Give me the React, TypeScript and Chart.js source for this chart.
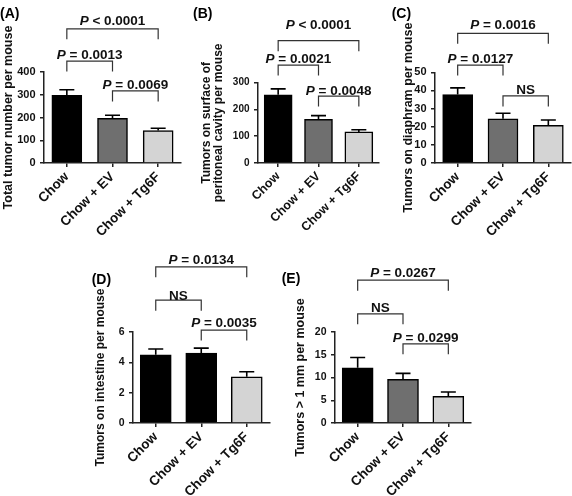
import React, { useEffect, useRef } from "react";
import { Chart, registerables } from "chart.js";

Chart.register(...registerables);

const FONT = "'Liberation Sans', Arial, Helvetica, sans-serif";

const categories = ["Chow", "Chow + EV", "Chow + Tg6F"];

// (A) Total tumor number per mouse
const totalMeans = [298, 196, 143];
const totalSem = [24, 14, 10];
// (B) Tumors on surface of peritoneal cavity per mouse
const peritonealMeans = [255, 163, 116];
const peritonealSem = [22, 14, 8];
// (C) Tumors on diaphram per mouse
const diaphramMeans = [37.7, 24.4, 20.8];
const diaphramSem = [3.7, 3.0, 2.9];
// (D) Tumors on intestine per mouse
const intestineMeans = [4.5, 4.61, 3.05];
const intestineSem = [0.38, 0.33, 0.33];
// (E) Tumors > 1 mm per mouse
const largeMeans = [12.15, 9.6, 5.86];
const largeSem = [2.25, 1.3, 0.94];

// y axis ranges / tick steps
const yMaxes = [400, 300, 50, 6, 20];
const ySteps = [100, 100, 10, 2, 5];

const panelLetters = ["(A)", "(B)", "(C)", "(D)", "(E)"];
const yTitles: (string | string[])[] = [
  "Total tumor number per mouse",
  ["Tumors on surface of", "peritoneal cavity per mouse"],
  "Tumors on diaphram per mouse",
  "Tumors on intestine per mouse",
  "Tumors > 1 mm per mouse",
];

// significance brackets: from category, to category, level (y units), label
const bracketFrom = [
  [0, 0, 1],
  [0, 0, 1],
  [0, 0, 1],
  [0, 0, 1],
  [0, 0, 1],
];
const bracketTo = [
  [2, 1, 2],
  [2, 1, 2],
  [2, 1, 2],
  [2, 1, 2],
  [2, 1, 2],
];
const bracketLevels = [
  [590, 448, 317],
  [457, 366, 250],
  [71.5, 54, 37],
  [10.3, 8.1, 6.13],
  [31.4, 24, 17.4],
];
const bracketLabels = [
  ["P < 0.0001", "P = 0.0013", "P = 0.0069"],
  ["P < 0.0001", "P = 0.0021", "P = 0.0048"],
  ["P = 0.0016", "P = 0.0127", "NS"],
  ["P = 0.0134", "NS", "P = 0.0035"],
  ["P = 0.0267", "NS", "P = 0.0299"],
];

const meansList = [totalMeans, peritonealMeans, diaphramMeans, intestineMeans, largeMeans];
const semList = [totalSem, peritonealSem, diaphramSem, intestineSem, largeSem];

// ---- styles / layout ----
const GREY = ["#000000", "#6f6f6f", "#d4d4d4"];
const barColors = [GREY, GREY, GREY, ["#000000", "#000000", "#d4d4d4"], GREY];

const layouts = [
  { left: 0, top: 0, width: 185, height: 250, yWidth: 44, padTop: 72, padRight: 4, xHeight: 87, titlePad: 0.8, lh: 1.2, bar: 30, lx: 0, ly: 17.5, gaps: [4, 2, 2], catSize: 13.5, tickSize: 11, titleSize: 12.5 },
  { left: 185, top: 0, width: 200, height: 250, yWidth: 73, padTop: 82.7, padRight: 6, xHeight: 87, titlePad: 16, lh: 1.0, bar: 28, lx: 8, ly: 18, gaps: [12, 2, 1.5], catSize: 12.5, tickSize: 10, titleSize: 12 },
  { left: 385, top: 0, width: 187, height: 250, yWidth: 50, padTop: 72.3, padRight: 1, xHeight: 87, titlePad: 16, lh: 1.2, bar: 30, lx: 6.7, ly: 17.5, gaps: [4, 2, 2], catSize: 13.5, tickSize: 11, titleSize: 12.5 },
  { left: 85, top: 250, width: 190, height: 246, yWidth: 48, padTop: 82, padRight: 5.5, xHeight: 73, titlePad: 8.5, lh: 1.2, bar: 31, lx: 6.7, ly: 34, gaps: [3, 0.5, 3], catSize: 13.5, tickSize: 10.5, titleSize: 12 },
  { left: 275, top: 250, width: 205, height: 246, yWidth: 60, padTop: 82, padRight: 9, xHeight: 73, titlePad: 18.5, lh: 1.2, bar: 31, lx: 6.7, ly: 33, gaps: [3, 2.3, 2.3], catSize: 13.5, tickSize: 10.5, titleSize: 12.5 },
];

const annotatePlugin = {
  id: "annotate",
  afterDatasetsDraw(chart: any, _args: any, opts: any) {
    const ctx: CanvasRenderingContext2D = chart.ctx;
    const xs = chart.scales.x;
    const ys = chart.scales.y;
    const meta = chart.getDatasetMeta(0);
    const p = opts.panel as number;
    const L = layouts[p];
    ctx.save();
    // error bars (upper SEM)
    ctx.strokeStyle = "#000";
    ctx.lineWidth = 1.6;
    const cap = 15;
    meansList[p].forEach((m, i) => {
      const el = meta.data[i];
      const xc = el.x;
      const yTop = ys.getPixelForValue(m);
      const yErr = ys.getPixelForValue(m + semList[p][i]);
      ctx.beginPath();
      ctx.moveTo(xc, yTop);
      ctx.lineTo(xc, yErr);
      ctx.moveTo(xc - cap / 2, yErr);
      ctx.lineTo(xc + cap / 2, yErr);
      ctx.stroke();
    });
    // brackets
    const arm = 10.5;
    ctx.strokeStyle = "#333";
    ctx.lineWidth = 1.2;
    ctx.fillStyle = "#111";
    ctx.textBaseline = "alphabetic";
    bracketLevels[p].forEach((lvl, k) => {
      const x1 = xs.getPixelForValue(bracketFrom[p][k]);
      const x2 = xs.getPixelForValue(bracketTo[p][k]);
      const yb = ys.getPixelForValue(lvl);
      ctx.beginPath();
      ctx.moveTo(x1, yb + arm);
      ctx.lineTo(x1, yb);
      ctx.lineTo(x2, yb);
      ctx.lineTo(x2, yb + arm);
      ctx.stroke();
      const label = bracketLabels[p][k];
      const cx = (x1 + x2) / 2;
      const by = yb - L.gaps[k];
      const bold = `bold 13.5px ${FONT}`;
      const ital = `italic bold 13.5px ${FONT}`;
      if (label.startsWith("P ")) {
        const rest = label.slice(1);
        ctx.font = ital;
        const w1 = ctx.measureText("P").width;
        ctx.font = bold;
        const w2 = ctx.measureText(rest).width;
        const sx = cx - (w1 + w2) / 2;
        ctx.textAlign = "left";
        ctx.font = ital;
        ctx.fillText("P", sx, by);
        ctx.font = bold;
        ctx.fillText(rest, sx + w1, by);
      } else {
        ctx.font = bold;
        ctx.textAlign = "center";
        ctx.fillText(label, cx, by);
      }
    });
    // panel letter
    ctx.font = `bold 14px ${FONT}`;
    ctx.textAlign = "left";
    ctx.fillStyle = "#000";
    ctx.fillText(panelLetters[p], L.lx, L.ly);
    ctx.restore();
  },
};

function Panel({ index }: { index: number }) {
  const ref = useRef<HTMLCanvasElement | null>(null);
  const L = layouts[index];
  useEffect(() => {
    if (!ref.current) return;
    const chart = new Chart(ref.current, {
      type: "bar",
      data: {
        labels: categories,
        datasets: [
          {
            data: meansList[index],
            backgroundColor: barColors[index],
            borderColor: "#000",
            borderWidth: 1.5,
            barThickness: L.bar,
          },
        ],
      },
      options: {
        responsive: false,
        animation: false,
        events: [],
        layout: { padding: { top: L.padTop, right: L.padRight, left: 0, bottom: 0 } },
        plugins: {
          legend: { display: false },
          tooltip: { enabled: false },
          annotate: { panel: index },
        } as any,
        scales: {
          x: {
            ticks: {
              font: { family: FONT, size: L.catSize, weight: "bold" },
              color: "#111",
              minRotation: 45,
              maxRotation: 45,
              autoSkip: false,
              padding: 2,
            },
            grid: {
              display: true,
              drawOnChartArea: false,
              drawTicks: true,
              tickLength: 4,
              offset: false,
              color: "#222",
              lineWidth: 1.5,
            },
            border: { display: true, color: "#222", width: 1.5 },
            afterFit: (s: any) => {
              s.height = L.xHeight;
            },
          },
          y: {
            min: 0,
            max: yMaxes[index],
            ticks: {
              stepSize: ySteps[index],
              font: { family: FONT, size: L.tickSize, weight: "bold" },
              color: "#111",
              padding: 4.5,
            },
            grid: {
              display: true,
              drawOnChartArea: false,
              drawTicks: true,
              tickLength: 4,
              color: "#222",
              lineWidth: 1.5,
            },
            border: { display: true, color: "#222", width: 1.5 },
            title: {
              display: true,
              text: yTitles[index] as any,
              color: "#111",
              font: { family: FONT, size: L.titleSize, weight: "bold", lineHeight: L.lh },
              padding: { top: L.titlePad, bottom: 0 },
            },
            afterFit: (s: any) => {
              s.width = L.yWidth;
            },
          },
        },
      } as any,
      plugins: [annotatePlugin],
    });
    return () => chart.destroy();
  }, [index]);
  return (
    <canvas
      ref={ref}
      width={L.width}
      height={L.height}
      style={{ position: "absolute", left: L.left, top: L.top, width: L.width, height: L.height, display: "block" }}
    />
  );
}

export default function App() {
  return (
    <div style={{ position: "fixed", left: 0, top: 0, width: 572, height: 496, background: "#fff", overflow: "hidden" }}>
      {[0, 1, 2, 3, 4].map((i) => (
        <Panel key={i} index={i} />
      ))}
    </div>
  );
}
